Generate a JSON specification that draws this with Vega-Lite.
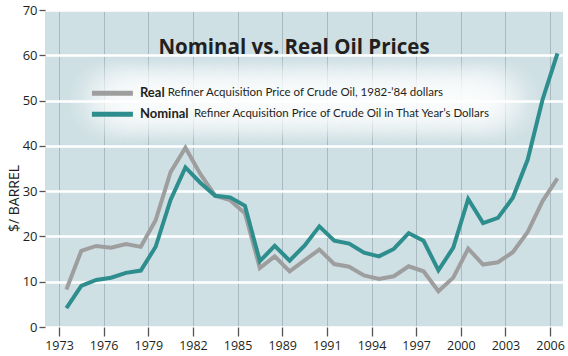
{
  "$schema": "https://vega.github.io/schema/vega-lite/v6.json",
  "width": 518,
  "height": 317,
  "autosize": {"type": "none"},
  "padding": {"left": 45, "top": 10, "right": 5, "bottom": 29},
  "background": "white",
  "config": {"view": {"fill": "#cfe0e4", "stroke": null}, "font": "Open Sans"},
  "title": {"text": "Nominal vs. Real Oil Prices", "anchor": "middle", "frame": "group", "orient": "top", "offset": -70, "baseline": "alphabetic", "dx": -10, "font": "Open Sans", "fontSize": 20.5, "fontWeight": "bold", "color": "#231f20"},
  "datasets": {
    "prices": [
      {"date": "1973-07-01", "series": "Real", "price": 8.3},
      {"date": "1974-07-01", "series": "Real", "price": 16.8},
      {"date": "1975-07-01", "series": "Real", "price": 17.9},
      {"date": "1976-07-01", "series": "Real", "price": 17.5},
      {"date": "1977-07-01", "series": "Real", "price": 18.3},
      {"date": "1978-07-01", "series": "Real", "price": 17.7},
      {"date": "1979-07-01", "series": "Real", "price": 23.6},
      {"date": "1980-07-01", "series": "Real", "price": 34.2},
      {"date": "1981-07-01", "series": "Real", "price": 39.6},
      {"date": "1982-07-01", "series": "Real", "price": 33.8},
      {"date": "1983-07-01", "series": "Real", "price": 29.0},
      {"date": "1984-07-01", "series": "Real", "price": 28.0},
      {"date": "1985-07-01", "series": "Real", "price": 25.1},
      {"date": "1986-07-01", "series": "Real", "price": 13.0},
      {"date": "1987-07-01", "series": "Real", "price": 15.6},
      {"date": "1988-07-01", "series": "Real", "price": 12.3},
      {"date": "1989-07-01", "series": "Real", "price": 14.7},
      {"date": "1990-07-01", "series": "Real", "price": 17.1},
      {"date": "1991-07-01", "series": "Real", "price": 13.9},
      {"date": "1992-07-01", "series": "Real", "price": 13.3},
      {"date": "1993-07-01", "series": "Real", "price": 11.4},
      {"date": "1994-07-01", "series": "Real", "price": 10.6},
      {"date": "1995-07-01", "series": "Real", "price": 11.2},
      {"date": "1996-07-01", "series": "Real", "price": 13.4},
      {"date": "1997-07-01", "series": "Real", "price": 12.3},
      {"date": "1998-07-01", "series": "Real", "price": 7.9},
      {"date": "1999-07-01", "series": "Real", "price": 10.9},
      {"date": "2000-07-01", "series": "Real", "price": 17.3},
      {"date": "2001-07-01", "series": "Real", "price": 13.8},
      {"date": "2002-07-01", "series": "Real", "price": 14.3},
      {"date": "2003-07-01", "series": "Real", "price": 16.5},
      {"date": "2004-07-01", "series": "Real", "price": 21.0},
      {"date": "2005-07-01", "series": "Real", "price": 27.8},
      {"date": "2006-07-01", "series": "Real", "price": 32.8},
      {"date": "1973-07-01", "series": "Nominal", "price": 4.15},
      {"date": "1974-07-01", "series": "Nominal", "price": 9.07},
      {"date": "1975-07-01", "series": "Nominal", "price": 10.38},
      {"date": "1976-07-01", "series": "Nominal", "price": 10.89},
      {"date": "1977-07-01", "series": "Nominal", "price": 11.96},
      {"date": "1978-07-01", "series": "Nominal", "price": 12.46},
      {"date": "1979-07-01", "series": "Nominal", "price": 17.72},
      {"date": "1980-07-01", "series": "Nominal", "price": 28.07},
      {"date": "1981-07-01", "series": "Nominal", "price": 35.24},
      {"date": "1982-07-01", "series": "Nominal", "price": 31.87},
      {"date": "1983-07-01", "series": "Nominal", "price": 28.99},
      {"date": "1984-07-01", "series": "Nominal", "price": 28.63},
      {"date": "1985-07-01", "series": "Nominal", "price": 26.75},
      {"date": "1986-07-01", "series": "Nominal", "price": 14.55},
      {"date": "1987-07-01", "series": "Nominal", "price": 17.9},
      {"date": "1988-07-01", "series": "Nominal", "price": 14.67},
      {"date": "1989-07-01", "series": "Nominal", "price": 17.97},
      {"date": "1990-07-01", "series": "Nominal", "price": 22.22},
      {"date": "1991-07-01", "series": "Nominal", "price": 19.06},
      {"date": "1992-07-01", "series": "Nominal", "price": 18.43},
      {"date": "1993-07-01", "series": "Nominal", "price": 16.41},
      {"date": "1994-07-01", "series": "Nominal", "price": 15.59},
      {"date": "1995-07-01", "series": "Nominal", "price": 17.23},
      {"date": "1996-07-01", "series": "Nominal", "price": 20.71},
      {"date": "1997-07-01", "series": "Nominal", "price": 19.04},
      {"date": "1998-07-01", "series": "Nominal", "price": 12.52},
      {"date": "1999-07-01", "series": "Nominal", "price": 17.51},
      {"date": "2000-07-01", "series": "Nominal", "price": 28.26},
      {"date": "2001-07-01", "series": "Nominal", "price": 22.95},
      {"date": "2002-07-01", "series": "Nominal", "price": 24.1},
      {"date": "2003-07-01", "series": "Nominal", "price": 28.53},
      {"date": "2004-07-01", "series": "Nominal", "price": 36.98},
      {"date": "2005-07-01", "series": "Nominal", "price": 50.24},
      {"date": "2006-07-01", "series": "Nominal", "price": 60.4}
    ],
    "legend": [
      {"series": "Real", "desc": "Refiner Acquisition Price of Crude Oil, 1982-’84 dollars"},
      {"series": "Nominal", "desc": "Refiner Acquisition Price of Crude Oil in That Year’s Dollars"}
    ]
  },
  "layer": [
    {
      "data": {"name": "prices"},
      "transform": [{"filter": "datum.series == 'Real' && year(datum.date) >= 1976 && year(datum.date) <= 2002"}],
      "mark": {"type": "point", "shape": "circle", "filled": true, "size": 7600, "opacity": 1, "strokeWidth": 0, "fill": {"gradient": "radial", "x1": 0.5, "y1": 0.5, "r1": 0, "x2": 0.5, "y2": 0.5, "r2": 0.5, "stops": [{"offset": 0, "color": "rgba(255,255,255,0.58)"}, {"offset": 0.5, "color": "rgba(255,255,255,0.33)"}, {"offset": 1, "color": "rgba(255,255,255,0)"}]}},
      "encoding": {
        "x": {"field": "date", "type": "temporal", "scale": {"type": "utc", "domain": [{"year": 1972, "month": 1, "date": 23, "utc": true}, {"year": 2006, "month": 11, "date": 14, "utc": true}], "nice": false}},
        "y": {"datum": 50, "type": "quantitative", "scale": {"domain": [0, 70], "nice": false}}
      }
    },
    {
      "data": {"name": "prices"},
      "mark": {"type": "line", "strokeWidth": 4},
      "encoding": {
        "x": {"field": "date", "type": "temporal",
          "axis": {"values": [{"year": 1973, "utc": true}, {"year": 1976, "utc": true}, {"year": 1979, "utc": true}, {"year": 1982, "utc": true}, {"year": 1985, "utc": true}, {"year": 1988, "utc": true}, {"year": 1991, "utc": true}, {"year": 1994, "utc": true}, {"year": 1997, "utc": true}, {"year": 2000, "utc": true}, {"year": 2003, "utc": true}, {"year": 2006, "utc": true}],
            "format": "%Y", "labelExpr": "datum.label == '1988' ? '1989' : datum.label", "title": null, "domain": false, "tickSize": 9, "tickColor": "#555555", "tickWidth": 1.3, "grid": true, "gridColor": "#a8babf", "gridWidth": 1, "labelFontSize": 12.5, "labelColor": "#231f20", "labelPadding": 3, "labelFlush": false, "labelOverlap": false}},
        "y": {"field": "price", "type": "quantitative",
          "axis": {"values": [0, 10, 20, 30, 40, 50, 60, 70], "title": "$/ BARREL", "titleFontSize": 14, "titleFontWeight": "normal", "titleColor": "#231f20", "titleX": -31, "titleY": 188, "titleBaseline": "middle", "domain": false, "tickSize": 6, "tickColor": "#555555", "tickWidth": 1.3, "grid": true, "gridColor": "#ffffff", "gridWidth": 2.5, "labelFontSize": 13, "labelColor": "#231f20", "labelPadding": 2}},
        "color": {"field": "series", "type": "nominal", "scale": {"domain": ["Real", "Nominal"], "range": ["#9e9e9e", "#2e8d8d"]}, "legend": null}
      }
    },
    {
      "data": {"name": "legend"},
      "transform": [{"filter": "datum.series == 'Real'"}],
      "mark": {"type": "rule", "strokeWidth": 5},
      "encoding": {
        "x": {"datum": {"year": 1975, "month": 3, "date": 20, "utc": true}, "type": "temporal"},
        "x2": {"datum": {"year": 1977, "month": 12, "date": 20, "utc": true}},
        "y": {"datum": 51.6, "type": "quantitative"},
        "color": {"field": "series", "type": "nominal"}
      }
    },
    {
      "data": {"name": "legend"},
      "transform": [{"filter": "datum.series == 'Nominal'"}],
      "mark": {"type": "rule", "strokeWidth": 5},
      "encoding": {
        "x": {"datum": {"year": 1975, "month": 3, "date": 20, "utc": true}, "type": "temporal"},
        "x2": {"datum": {"year": 1977, "month": 12, "date": 20, "utc": true}},
        "y": {"datum": 47.0, "type": "quantitative"},
        "color": {"field": "series", "type": "nominal"}
      }
    },
    {
      "data": {"name": "legend"},
      "transform": [{"filter": "datum.series == 'Real'"}],
      "mark": {"type": "text", "align": "left", "baseline": "middle", "font": "Lato", "fontWeight": "bold", "fontSize": 13, "color": "#231f20"},
      "encoding": {
        "x": {"datum": {"year": 1978, "month": 6, "date": 10, "utc": true}, "type": "temporal"},
        "y": {"datum": 51.6, "type": "quantitative"},
        "text": {"field": "series"}
      }
    },
    {
      "data": {"name": "legend"},
      "transform": [{"filter": "datum.series == 'Nominal'"}],
      "mark": {"type": "text", "align": "left", "baseline": "middle", "font": "Lato", "fontWeight": "bold", "fontSize": 13, "color": "#231f20"},
      "encoding": {
        "x": {"datum": {"year": 1978, "month": 6, "date": 10, "utc": true}, "type": "temporal"},
        "y": {"datum": 47.0, "type": "quantitative"},
        "text": {"field": "series"}
      }
    },
    {
      "data": {"name": "legend"},
      "transform": [{"filter": "datum.series == 'Real'"}],
      "mark": {"type": "text", "align": "left", "baseline": "middle", "font": "Lato", "fontSize": 11.5, "color": "#231f20"},
      "encoding": {
        "x": {"datum": {"year": 1980, "month": 4, "date": 20, "utc": true}, "type": "temporal"},
        "y": {"datum": 51.6, "type": "quantitative"},
        "text": {"field": "desc"}
      }
    },
    {
      "data": {"name": "legend"},
      "transform": [{"filter": "datum.series == 'Nominal'"}],
      "mark": {"type": "text", "align": "left", "baseline": "middle", "font": "Lato", "fontSize": 11.5, "color": "#231f20"},
      "encoding": {
        "x": {"datum": {"year": 1982, "month": 1, "date": 26, "utc": true}, "type": "temporal"},
        "y": {"datum": 47.0, "type": "quantitative"},
        "text": {"field": "desc"}
      }
    }
  ]
}
